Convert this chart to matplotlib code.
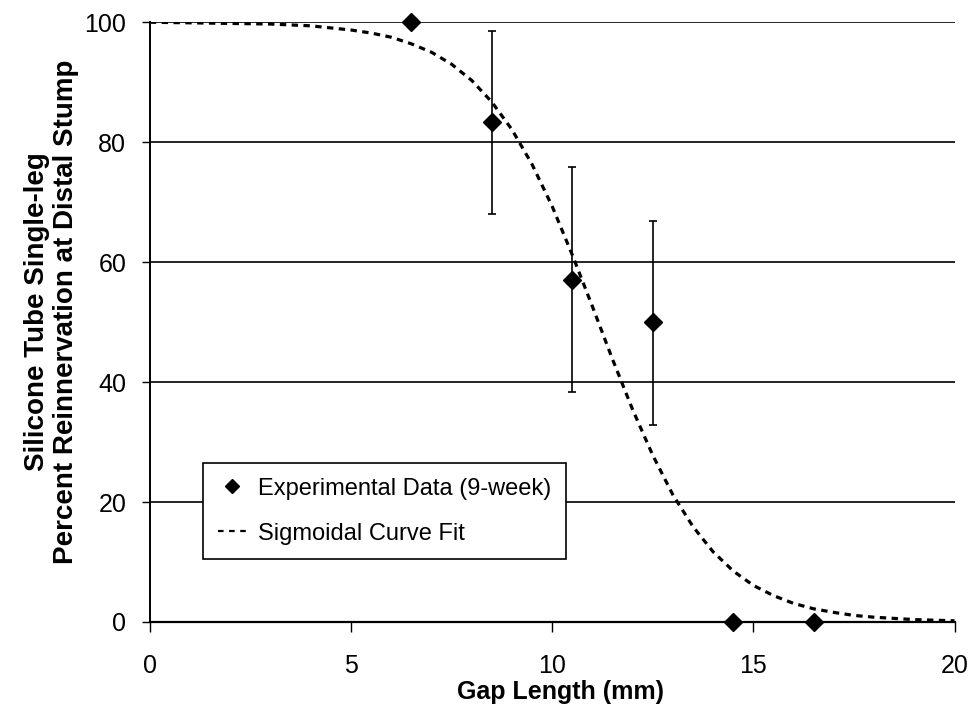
import matplotlib
matplotlib.use("Agg")
import matplotlib.pyplot as plt
from matplotlib.lines import Line2D

plt.rcParams['font.family'] = ['Liberation Sans', 'DejaVu Sans']

# experimental data (9-week)
gap_mm = [6.5, 8.5, 10.5, 12.5, 14.5, 16.5]
reinnervation = [100, 83.3, 57.0, 50.0, 0, 0]
err_lo = [0, 15.2, 18.6, 17.1, 0, 0]
err_hi = [0, 15.2, 18.9, 16.9, 0, 0]

# sigmoidal curve fit
fit_x = [0, 1, 2, 3, 4, 5, 5.5, 6, 6.5, 7, 7.5, 8, 8.5, 9, 9.5, 10, 10.5,
         11, 11.5, 12, 12.5, 13, 13.5, 14, 14.5, 15, 15.5, 16, 16.5, 17,
         17.5, 18, 19, 20]
fit_y = [100.0, 99.9, 99.8, 99.7, 99.4, 98.7, 98.2, 97.5, 96.4, 95.0, 93.0,
         90.3, 86.7, 82.1, 76.3, 69.3, 61.2, 52.6, 43.8, 35.4, 27.8, 21.2,
         15.9, 11.7, 8.5, 6.1, 4.4, 3.1, 2.2, 1.6, 1.1, 0.8, 0.4, 0.2]

fig = plt.figure(figsize=(9.73, 7.17), dpi=100)
ax = fig.add_axes([0.154, 0.1325, 0.827, 0.8365])

dash = (0, (2.0, 1.7))
ax.plot(fit_x, fit_y, color='black', lw=2.3, linestyle=dash, zorder=3)
ax.errorbar(gap_mm, reinnervation, yerr=[err_lo, err_hi], fmt='D',
            color='black', markersize=9.5, ecolor='black', elinewidth=1.2,
            capsize=3.2, capthick=1.2, zorder=4, clip_on=False)

ax.set_xlim(0, 20)
ax.set_ylim(0, 100)
ax.set_xticks([0, 5, 10, 15, 20])
ax.set_yticks([0, 20, 40, 60, 80, 100])
ax.yaxis.grid(True, color='black', lw=1.2)
ax.set_axisbelow(True)
for s in ['top', 'right']:
    ax.spines[s].set_visible(False)
ax.spines['left'].set_linewidth(1.4)
ax.spines['bottom'].set_linewidth(1.6)
ax.tick_params(axis='x', labelsize=18, length=7, width=1.0, pad=16)
ax.tick_params(axis='y', labelsize=18, length=6, width=1.0, pad=11)

ax.set_xlabel('Gap Length (mm)', fontsize=18, fontweight='bold', va='top')
ax.xaxis.set_label_coords(0.51, -0.097)
ax.set_ylabel('Silicone Tube Single-leg\nPercent Reinnervation at Distal Stump',
              fontsize=20, fontweight='bold', linespacing=1.15)
ax.yaxis.set_label_coords(-0.088, 0.517)

handles = [Line2D([], [], marker='D', color='black', linestyle='none',
                  markersize=7),
           Line2D([], [], color='black', lw=1.6, linestyle=(0, (2.5, 2.5)))]
labels = ['Experimental Data (9-week)', 'Sigmoidal Curve Fit']
leg = ax.legend(handles, labels, loc='upper left',
                bbox_to_anchor=(0.066, 0.265), fontsize=17, fancybox=False,
                edgecolor='black', framealpha=1, handlelength=1.2,
                handletextpad=0.5, borderpad=0.62, labelspacing=0.97,
                borderaxespad=0)
leg.get_frame().set_linewidth(1.2)

plt.savefig('out.png', dpi=100)
